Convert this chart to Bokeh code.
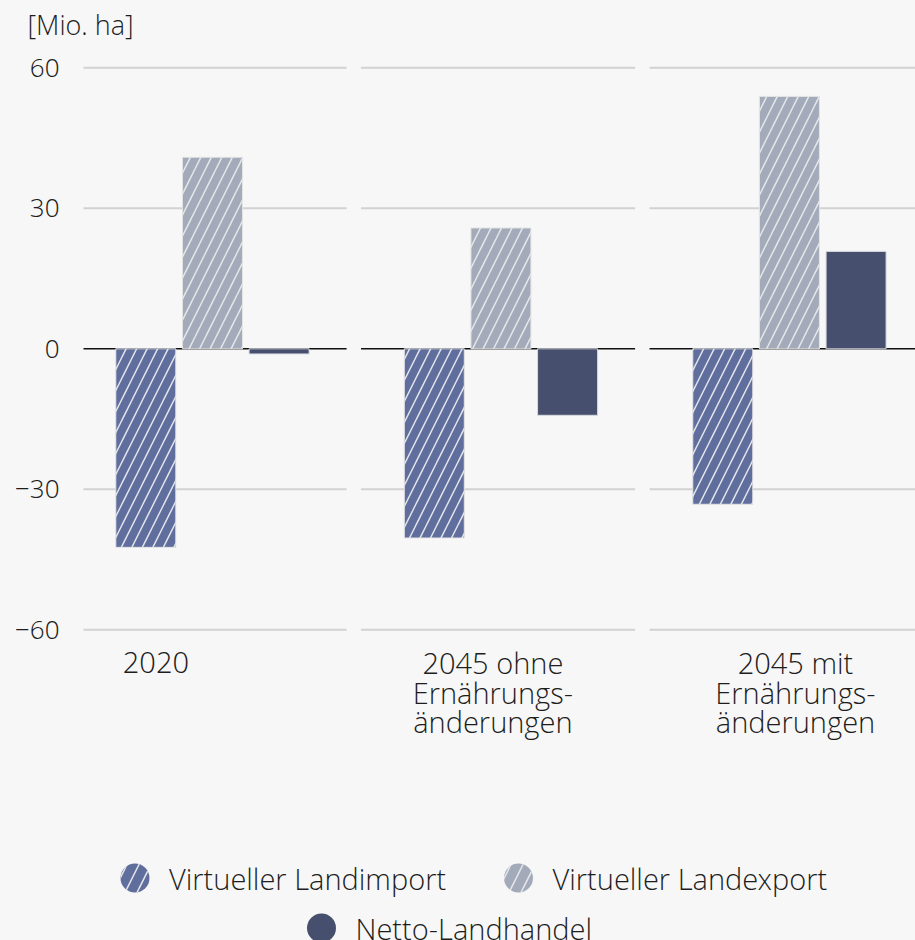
from bokeh.plotting import figure
from bokeh.models import Range1d, FixedTicker
from bokeh.embed import file_html
from bokeh.resources import INLINE
from bokeh.core.properties import value

# ---------------- data ----------------
categories = ["2020", "2045 ohne\nErnährungs-\nänderungen", "2045 mit\nErnährungs-\nänderungen"]
series_names = ["Virtueller Landimport", "Virtueller Landexport", "Netto-Landhandel"]
landimport = [-42.4, -40.4, -33.2]
landexport = [40.9, 25.8, 53.9]
netto = [-1.1, -14.2, 20.8]
y_ticks = [-60, -30, 0, 30, 60]
y_tick_labels = ["\u221260", "\u221230", "0", "30", "60"]
unit_label = "[Mio. ha]"

# ---------------- style ----------------
BG = "#f7f7f7"
TXT = "#1d1d1d"
C_IMP = "#5f6e9c"
C_EXP = "#a3abba"
C_NET = "#474f6e"
GRID = "#d2d2d2"
FONT = "'Open Sans Light', 'Open Sans'"

W, H = 915, 940
FRAME_TOP, FRAME_BOTTOM = 49, 940  # pixels
FRAME_LEFT, FRAME_RIGHT = 83, 915
ZERO_PX, PX_PER_UNIT = 348.3, 4.683
TXT_SHIFT = -10.5  # baseline correction for text glyphs

y_end = (ZERO_PX - FRAME_TOP) / PX_PER_UNIT
y_start = (ZERO_PX - FRAME_BOTTOM) / PX_PER_UNIT

p = figure(width=W, height=H, output_backend="svg", toolbar_location=None,
           x_range=Range1d(-0.447, 2.437), y_range=Range1d(y_start, y_end),
           x_axis_location=None, y_axis_location="left",
           min_border_left=FRAME_LEFT, min_border_right=0, min_border_top=FRAME_TOP,
           min_border_bottom=0,
           background_fill_color=None, border_fill_color=None, outline_line_color=None)
p.styles = {"background-color": BG}
p.grid.visible = False
p.extra_x_ranges = {"px": Range1d(FRAME_LEFT, FRAME_RIGHT)}
p.extra_y_ranges = {"px": Range1d(FRAME_BOTTOM, FRAME_TOP)}

# title (unit)
p.title.text = unit_label
p.title.align = "left"
p.title.vertical_align = "top"
p.title.offset = -56
p.title.text_font = FONT
p.title.text_font_size = "27px"
p.title.text_font_style = "normal"
p.title.text_color = TXT
p.title.standoff = 10

# y axis
ax = p.yaxis[0]
ax.ticker = FixedTicker(ticks=y_ticks)
ax.major_label_overrides = {t: l for t, l in zip(y_ticks, y_tick_labels)}
ax.axis_line_color = None
ax.major_tick_line_color = None
ax.minor_tick_line_color = None
ax.major_tick_out = 0
ax.major_tick_in = 0
ax.major_label_standoff = 24
ax.major_label_text_font = FONT
ax.major_label_text_font_size = "26px"
ax.major_label_text_color = TXT

n = len(categories)
idx = list(range(n))

# panel-wise grid lines (broken between groups)
gx0, gx1, gy = [], [], []
zx0, zx1, zy = [], [], []
for t in y_ticks:
    for i in idx:
        if t == 0:
            zx0.append(i - 0.485); zx1.append(i + 0.465); zy.append(t)
        else:
            gx0.append(i - 0.485); gx1.append(i + 0.465); gy.append(t)
p.segment(x0=gx0, x1=gx1, y0=gy, y1=gy, line_color=GRID, line_width=2)
p.segment(x0=zx0, x1=zx1, y0=zy, y1=zy, line_color="#111111", line_width=1.6)

OFF = 0.231
BW = 0.208
hatch = dict(hatch_pattern="/", hatch_scale=21, hatch_weight=1.5)
p.vbar(x=[i - OFF for i in idx], top=landimport, bottom=0, width=BW,
       fill_color=C_IMP, line_color="#e4e4e4", line_width=1, hatch_color="#e2e4ea", **hatch)
p.vbar(x=[i for i in idx], top=landexport, bottom=0, width=BW,
       fill_color=C_EXP, line_color="#e4e4e4", line_width=1, hatch_color="#e6e7ea", **hatch)
p.vbar(x=[i + OFF for i in idx], top=netto, bottom=0, width=BW,
       fill_color=C_NET, line_color="#d8dae0", line_width=1)

# category labels, one glyph row per text line
label_dx = [-0.196, -0.028, 0.021]
LINE_STEP = 29.3
lx, ly, lt = [], [], []
for i, (cat, d) in enumerate(zip(categories, label_dx)):
    for j, line in enumerate(cat.split("\n")):
        lx.append(i + d)
        ly.append(672.7 + LINE_STEP * j + TXT_SHIFT)
        lt.append(line)
p.text(x=lx, y=ly, y_range_name="px", text=lt, text_align="center",
       text_baseline="alphabetic", text_font=value(FONT), text_font_size="29px",
       text_color=TXT)

# legend (manual, centred rows)
leg_x = [134.5, 518, 321]
leg_y = [877.5, 877.5, 927.5]
leg_colors = [C_IMP, C_EXP, C_NET]
for k in range(3):
    kw = dict(hatch_pattern="/", hatch_scale=24, hatch_weight=1.5, hatch_color="#e6e7ea") if k < 2 else {}
    p.scatter(x=[leg_x[k]], y=[leg_y[k]], x_range_name="px", y_range_name="px",
              marker="circle", size=29, fill_color=leg_colors[k], line_color=None, **kw)
p.text(x=[x + 34 for x in leg_x], y=[y + 10.8 + TXT_SHIFT for y in leg_y],
       x_range_name="px", y_range_name="px",
       text=series_names, text_align="left", text_baseline="alphabetic",
       text_font=value(FONT), text_font_size="29px", text_color=TXT)

open("out.html", "w").write(file_html(p, INLINE))
